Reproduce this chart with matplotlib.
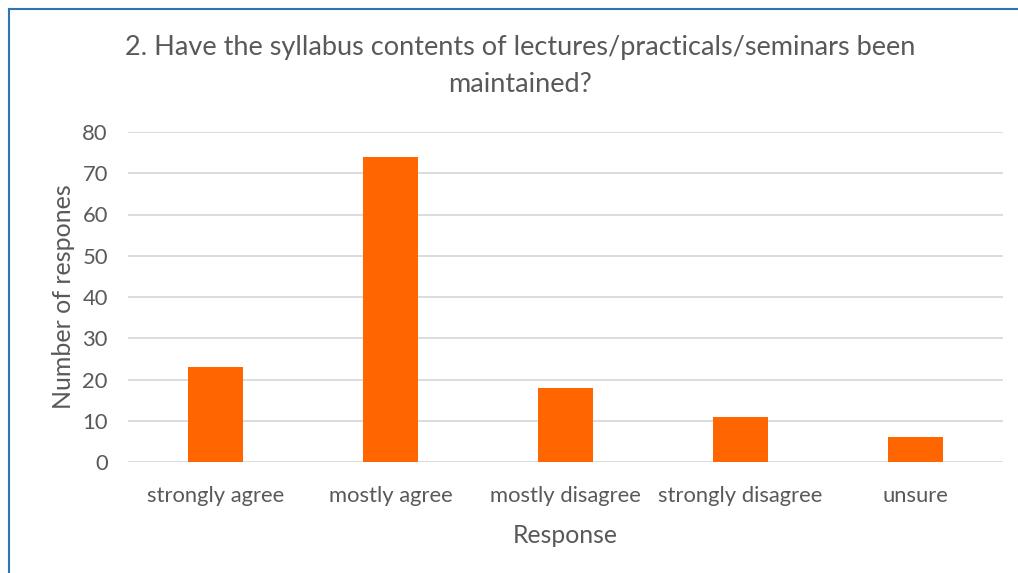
import matplotlib
matplotlib.use("Agg")
import matplotlib.pyplot as plt
from matplotlib.lines import Line2D

categories = ["strongly agree", "mostly agree", "mostly disagree", "strongly disagree", "unsure"]
values = [23, 74, 18, 11, 6]
yticks = [0, 10, 20, 30, 40, 50, 60, 70, 80]

plt.rcParams['font.family'] = ['Lato', 'DejaVu Sans']
W, H = 1018, 573
fig = plt.figure(figsize=(W/100, H/100), dpi=100)
ax = fig.add_axes([128/W, 1-462/H, (1003-128)/W, (462-132)/H])

x = range(len(categories))
ax.bar(x, values, width=0.314, color='#FF6600', zorder=3)
ax.set_xlim(-0.5, len(categories)-0.5)
ax.set_ylim(0, 80)
ax.set_yticks(yticks)
ax.set_xticks(list(x))
ax.set_xticklabels(categories)
ax.grid(axis='y', color='#D9D9D9', linewidth=1.3, zorder=0)
for s in ax.spines.values():
    s.set_visible(False)
ax.tick_params(axis='both', length=0, labelsize=15.8, colors='#595959')
ax.tick_params(axis='y', pad=14.5)
ax.tick_params(axis='x', pad=17)
ax.set_xlabel("Response", fontsize=17.8, color='#595959', labelpad=13)
ax.set_ylabel("Number of respones", fontsize=18, color='#595959', labelpad=5)

fig.text(520/W, 1-48/H, "2. Have the syllabus contents of lectures/practicals/seminars been",
         ha='center', va='center', fontsize=19.5, color='#595959')
fig.text(520/W, 1-85/H, "maintained?", ha='center', va='center', fontsize=19.5, color='#595959')

fig.add_artist(Line2D([8.5/W, 8.5/W], [0, 1-8.5/H], color='#2E75B6', linewidth=1.5))
fig.add_artist(Line2D([8.5/W, 1], [1-8.5/H, 1-8.5/H], color='#2E75B6', linewidth=1.5))

fig.savefig("out.png", dpi=100)
